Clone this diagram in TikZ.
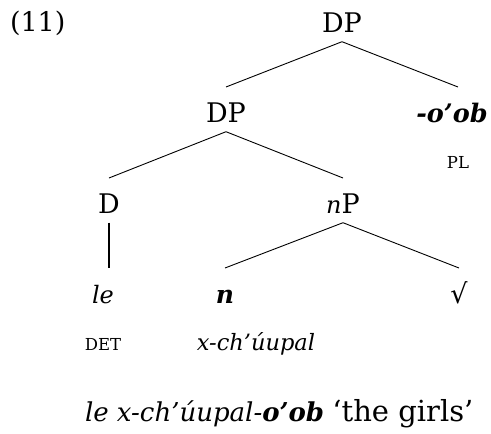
\documentclass[tikz,border=0pt]{standalone}
\usepackage{fontspec}
\setmainfont{DejaVu Serif}
\newcommand\catsize{\fontsize{27}{32}\selectfont}
\newcommand\itsize{\fontsize{24}{28}\selectfont\itshape}
\begin{document}
\begin{tikzpicture}[x=1pt,y=-1pt,
  every node/.style={inner sep=0pt,outer sep=0pt},
  cat/.style={anchor=base,font=\catsize,
    text height=35pt,text depth=9.7pt},
  gloss/.style={anchor=base,font=\fontsize{16.5}{19}\selectfont},
  sub/.style={anchor=base,font=\fontsize{22.5}{26}\selectfont\itshape},
  branch/.style={draw=black,line width=0.9pt}]
\useasboundingbox (0,0) rectangle (491,434);
% example number
\node[anchor=base west,font=\catsize] (num) at (10,31) {(11)};
% tree
\node[cat] (dp)  at (342,32)  {DP};
\node[cat] (dp2) at (226,122) {DP};
\node[cat,font=\fontsize{25.5}{30}\selectfont\bfseries\itshape] (oob) at (452,122) {-o’ob};
\node[gloss] (pl) at (458,168) {PL};
\node[cat] (d)  at (109,213) {D};
\node[cat] (np) at (343,213) {\itsize n\upshape\catsize P};
\node[cat,font=\itsize] (le) at (103,303) {le};
\node[cat,font=\fontsize{25}{30}\selectfont\bfseries\itshape] (n) at (225,303) {n};
\node[cat] (root) at (459,303) {√};
\node[gloss] (det) at (103,350) {DET};
\node[sub] (xch) at (256,350) {x-ch’úupal};
% branches
\draw[branch] (dp.south) -- (dp2.north);
\draw[branch] (dp.south) -- ([xshift=6pt]oob.north);
\draw[branch] (dp2.south) -- (d.north);
\draw[branch] (dp2.south) -- (np.north);
\draw[branch,line width=1.4pt] (d.south) -- (d.south |- le.north);
\draw[branch] (np.south) -- (n.north);
\draw[branch] (np.south) -- (root.north);
% translation line
\node[anchor=base west] (tr) at (85,421)
  {\fontsize{26}{30}\selectfont\itshape le x-ch’úupal-\textbf{o’ob}
   \upshape\fontsize{29}{34}\selectfont ‘the girls’};
\end{tikzpicture}
\end{document}
